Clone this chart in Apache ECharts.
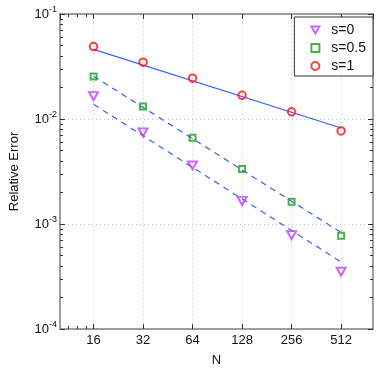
<!DOCTYPE html>
<html>
<head>
<meta charset="utf-8">
<script src="https://cdn.jsdelivr.net/npm/echarts@6/dist/echarts.min.js"></script>
<style>
  html, body { margin: 0; padding: 0; background: #fff; }
  #chart { width: 382px; height: 372px; }
</style>
</head>
<body>
<div id="chart"></div>
<script>
// N values (x) and measured relative errors
var nValues = [16, 32, 64, 128, 256, 512];
var errS0 = [0.0165, 0.00745, 0.00361, 0.00166, 0.000784, 0.000351];
var errS05 = [0.0254, 0.01315, 0.00664, 0.00334, 0.00163, 0.000773];
var errS1 = [0.0489, 0.0348, 0.0245, 0.0168, 0.0117, 0.0077];

// reference slopes, drawn between first and last N
var fitN = [16, 512];
var fitS0 = [0.0138, 0.000435];
var fitS05 = [0.0256, 0.00083];
var fitS1 = [0.046, 0.0082];

// minor tick marks (in data units)
var xMinorTicks = [11.3, 12.8, 14.5];
var yMinorTicks = [];
[-4, -3, -2].forEach(function (d) {
  for (var k = 2; k <= 9; k++) yMinorTicks.push(k * Math.pow(10, d));
});

var font = "'Liberation Sans', Arial, sans-serif";
var boxColor = '#808080';
var blue = '#3d5eff';
var triDown = 'path://M0,0 L10,0 L5,8.66 Z';

function pairs(xs, ys) {
  return xs.map(function (x, i) { return [x, ys[i]]; });
}

function xAx(pos) {
  return {
    type: 'log', logBase: 2, min: 10, max: 800, position: pos,
    axisLine: { show: true, lineStyle: { color: boxColor, width: 1.5 } },
    axisTick: { show: true, inside: true, length: 5, lineStyle: { color: '#333' } },
    axisLabel: pos === 'bottom'
      ? { show: true, showMinLabel: false, showMaxLabel: false, color: '#111', fontSize: 13, fontFamily: font, margin: 5 }
      : { show: false },
    splitLine: pos === 'bottom'
      ? { show: true, lineStyle: { color: '#c4c4c4', type: [1, 3], width: 1 } }
      : { show: false },
    name: pos === 'bottom' ? 'N' : '',
    nameLocation: 'middle', nameGap: 25,
    nameTextStyle: { color: '#111', fontSize: 13, fontFamily: font }
  };
}

function yAx(pos) {
  return {
    type: 'log', logBase: 10, min: 1e-4, max: 1e-1, position: pos,
    axisLine: { show: true, lineStyle: { color: boxColor, width: 1.5 } },
    axisTick: { show: true, inside: true, length: 5, lineStyle: { color: '#333' } },
    axisLabel: pos === 'left'
      ? {
          show: true, margin: 3, fontFamily: font,
          formatter: function (v) {
            return '{b|10}{e|' + Math.round(Math.log10(v)) + '}';
          },
          rich: {
            b: { fontSize: 13, color: '#111', fontFamily: font },
            e: { fontSize: 9, color: '#111', fontFamily: font, padding: [0, 0, 8, 0] }
          }
        }
      : { show: false },
    splitLine: pos === 'left'
      ? { show: true, lineStyle: { color: '#c4c4c4', type: [1, 3], width: 1 } }
      : { show: false },
    name: pos === 'left' ? 'Relative Error' : '',
    nameLocation: 'middle', nameGap: 39,
    nameTextStyle: { color: '#111', fontSize: 13, fontFamily: font }
  };
}

// tick-only axes for minor ticks, in log units
function minorAx(pos, lo, hi, vals, base) {
  return {
    type: 'value', min: lo, max: hi, position: pos,
    axisLine: { show: false },
    axisTick: {
      show: true, inside: true, length: 3, lineStyle: { color: '#333' },
      customValues: vals.map(function (v) { return Math.log(v) / Math.log(base); })
    },
    axisLabel: { show: false },
    splitLine: { show: false }
  };
}

var chart = echarts.init(document.getElementById('chart'), null, { renderer: 'canvas' });

var option = {
  backgroundColor: '#fff',
  animation: false,
  grid: { left: 52, top: 14, right: 9, bottom: 37 },
  legend: {
    orient: 'vertical', right: 9, top: 17,
    data: ['s=0', 's=0.5', 's=1'],
    backgroundColor: '#fff', borderColor: '#333', borderWidth: 1, borderRadius: 0,
    padding: [6, 7, 3, 16],
    itemWidth: 8, itemHeight: 8, itemGap: 4,
    textStyle: { color: '#111', fontSize: 14, fontFamily: font, lineHeight: 14, padding: [0, 0, 0, 7] }
  },
  xAxis: [
    xAx('bottom'), xAx('top'),
    minorAx('bottom', Math.log2(10), Math.log2(800), xMinorTicks, 2),
    minorAx('top', Math.log2(10), Math.log2(800), xMinorTicks, 2)
  ],
  yAxis: [
    yAx('left'), yAx('right'),
    minorAx('left', -4, -1, yMinorTicks, 10),
    minorAx('right', -4, -1, yMinorTicks, 10)
  ],
  series: [
    {
      name: 'fit1', type: 'line', data: pairs(fitN, fitS1), symbol: 'none',
      lineStyle: { color: blue, width: 1.2 }, z: 2
    },
    {
      name: 'fit05', type: 'line', data: pairs(fitN, fitS05), symbol: 'none',
      lineStyle: { color: blue, width: 1.2, type: [6, 5] }, z: 2
    },
    {
      name: 'fit0', type: 'line', data: pairs(fitN, fitS0), symbol: 'none',
      lineStyle: { color: blue, width: 1.2, type: [6, 5] }, z: 2
    },
    {
      name: 's=0', type: 'scatter', data: pairs(nValues, errS0),
      symbol: triDown, symbolSize: [9, 8],
      itemStyle: { color: 'rgba(255,255,255,0)', borderColor: '#bf40ff', borderWidth: 2 }, z: 3
    },
    {
      name: 's=0.5', type: 'scatter', data: pairs(nValues, errS05),
      symbol: 'rect', symbolSize: 6,
      itemStyle: { color: 'rgba(255,255,255,0)', borderColor: '#16a016', borderWidth: 2 }, z: 3
    },
    {
      name: 's=1', type: 'scatter', data: pairs(nValues, errS1),
      symbol: 'circle', symbolSize: 7.5,
      itemStyle: { color: 'rgba(255,255,255,0)', borderColor: '#ff1010', borderWidth: 2 }, z: 3
    }
  ]
};

chart.setOption(option);
</script>
</body>
</html>
